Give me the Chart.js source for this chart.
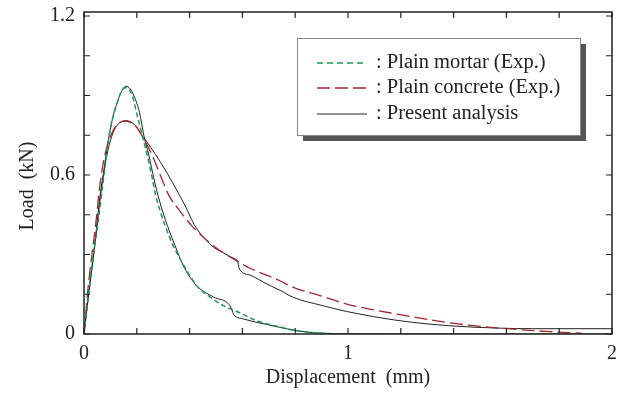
<!DOCTYPE html>
<html>
<head>
<meta charset="utf-8">
<script src="https://cdn.jsdelivr.net/npm/chart.js@4.4.0/dist/chart.umd.min.js"></script>
<style>
html,body{margin:0;padding:0;background:#fff;}
#wrap{width:622px;height:394px;position:relative;}
</style>
</head>
<body>
<div id="wrap"><canvas id="c"></canvas></div>
<script>
// ---- data ----
const mortarX = [0,0.02,0.04,0.053,0.069,0.076,0.095,0.11,0.126,0.14,0.16,0.183,0.202,0.221,0.24,0.259,0.272,0.29,0.307,0.335,0.364,0.395,0.427,0.47,0.528,0.59,0.654,0.742,0.793,0.85,0.9,0.976];
const mortarY = [0,0.17,0.33,0.42,0.547,0.6,0.748,0.82,0.874,0.912,0.93,0.899,0.823,0.748,0.673,0.585,0.52,0.46,0.409,0.34,0.283,0.23,0.182,0.145,0.107,0.08,0.05,0.027,0.014,0.007,0.003,0];

const concreteX = [0,0.015,0.03,0.045,0.057,0.069,0.088,0.114,0.135,0.158,0.196,0.227,0.259,0.29,0.322,0.357,0.408,0.49,0.566,0.629,0.742,0.793,0.894,0.995,1.197,1.386,1.576,1.765,1.885];
const concreteY = [0,0.17,0.3,0.42,0.535,0.623,0.711,0.774,0.798,0.803,0.784,0.736,0.673,0.597,0.522,0.472,0.409,0.333,0.283,0.248,0.201,0.176,0.145,0.113,0.073,0.042,0.022,0.009,0.003];

const anaMortarX = [0,0.02,0.04,0.061,0.076,0.095,0.11,0.126,0.142,0.158,0.175,0.189,0.21,0.227,0.246,0.265,0.284,0.316,0.345,0.376,0.427,0.49,0.553,0.559,0.568,0.6,0.65,0.692,0.742,0.8,0.85,0.9,1.0,1.5,2.0];
const anaMortarY = [0,0.17,0.33,0.522,0.623,0.748,0.82,0.874,0.915,0.935,0.925,0.899,0.837,0.748,0.673,0.585,0.509,0.409,0.333,0.258,0.182,0.14,0.107,0.094,0.072,0.058,0.045,0.036,0.025,0.014,0.007,0.003,0.001,0,0];

const anaConcreteX = [0,0.02,0.04,0.06,0.08,0.1,0.12,0.14,0.16,0.189,0.221,0.253,0.29,0.335,0.383,0.42,0.484,0.53,0.572,0.581,0.589,0.63,0.69,0.742,0.793,0.9,0.995,1.197,1.386,1.576,1.7,2.0];
const anaConcreteY = [0,0.17,0.33,0.5,0.64,0.73,0.78,0.80,0.805,0.792,0.748,0.704,0.648,0.572,0.484,0.409,0.333,0.305,0.283,0.277,0.245,0.222,0.19,0.165,0.138,0.108,0.085,0.05,0.031,0.022,0.02,0.02];

const xTickValues = [0,0.2,0.4,0.6,0.8,1,1.2,1.4,1.6,1.8,2];
const xTickLabels = ['0','','','','','1','','','','','2'];
const yTickValues = [0,0.15,0.3,0.45,0.6,0.75,0.9,1.05,1.2];
const yTickLabels = ['0','','','','0.6','','','','1.2'];

const legendLabels = [': Plain mortar (Exp.)', ': Plain concrete (Exp.)', ': Present analysis'];
const xTitle = 'Displacement  (mm)';
const yTitle = 'Load  (kN)';

// ---- styles ----
const GREEN = '#1f9a55';
const RED = '#a3282e';
const BLACK = '#222';
const FONT = '"Liberation Serif", "Times New Roman", serif';

function pts(xs, ys){ return xs.map((x,i)=>({x:x, y:ys[i]})); }

const frameAndTicks = {
  id:'frameAndTicks',
  afterDraw(chart){
    const {ctx, chartArea:a, scales:{x, y}} = chart;
    ctx.save();
    ctx.strokeStyle = '#222';
    ctx.lineWidth = 1.5;
    ctx.strokeRect(a.left, a.top, a.right-a.left, a.bottom-a.top);
    ctx.lineWidth = 1.2;
    const L = 6;
    ctx.beginPath();
    xTickValues.forEach(v=>{
      const px = x.getPixelForValue(v);
      ctx.moveTo(px, a.bottom); ctx.lineTo(px, a.bottom-L);
      ctx.moveTo(px, a.top); ctx.lineTo(px, a.top+L);
    });
    yTickValues.forEach(v=>{
      const py = y.getPixelForValue(v);
      ctx.moveTo(a.left, py); ctx.lineTo(a.left+L, py);
      ctx.moveTo(a.right, py); ctx.lineTo(a.right-L, py);
    });
    ctx.stroke();

    // axis titles
    ctx.fillStyle = '#222';
    ctx.font = '20px ' + FONT;
    ctx.textAlign = 'center';
    ctx.textBaseline = 'middle';
    ctx.fillText(xTitle, (a.left+a.right)/2, 378);
    ctx.save();
    ctx.translate(28, 186);
    ctx.rotate(-Math.PI/2);
    ctx.fillText(yTitle, 0, 0);
    ctx.restore();

    // legend
    const bx=297, by=38, bw=283, bh=97;
    ctx.fillStyle = '#555';
    ctx.fillRect(bx+6, by+6, bw, bh);
    ctx.fillStyle = '#fff';
    ctx.fillRect(bx, by, bw, bh);
    ctx.strokeStyle = '#888';
    ctx.lineWidth = 1;
    ctx.strokeRect(bx+0.5, by+0.5, bw, bh);
    const rows = [63, 88, 114];
    const styles = [
      {c:GREEN, d:[6,4], w:1.5},
      {c:RED, d:[13,5], w:1.3},
      {c:BLACK, d:[], w:1}
    ];
    ctx.font = '20.5px ' + FONT;
    rows.forEach((ry,i)=>{
      ctx.strokeStyle = styles[i].c;
      ctx.lineWidth = styles[i].w;
      ctx.setLineDash(styles[i].d);
      ctx.beginPath();
      ctx.moveTo(317, ry); ctx.lineTo(367, ry);
      ctx.stroke();
      ctx.setLineDash([]);
      ctx.fillStyle = '#222';
      ctx.textAlign = 'left';
      ctx.fillText(legendLabels[i], 376, ry);
    });
    ctx.restore();
  }
};

new Chart(document.getElementById('c'), {
  type:'line',
  data:{
    datasets:[
      {label:'Plain mortar (Exp.)', data:pts(mortarX, mortarY), borderColor:GREEN, borderWidth:1.5, borderDash:[5,3]},
      {label:'Plain concrete (Exp.)', data:pts(concreteX, concreteY), borderColor:RED, borderWidth:1.3, borderDash:[13,5]},
      {label:'Present analysis', data:pts(anaMortarX, anaMortarY), borderColor:BLACK, borderWidth:1},
      {label:'Present analysis 2', data:pts(anaConcreteX, anaConcreteY), borderColor:BLACK, borderWidth:1}
    ]
  },
  options:{
    responsive:true,
    maintainAspectRatio:false,
    animation:false,
    parsing:false,
    layout:{padding:{top:12, right:10, left:0, bottom:0}},
    elements:{point:{radius:0}, line:{cubicInterpolationMode:'monotone', fill:false}},
    plugins:{legend:{display:false}, tooltip:{enabled:false}},
    scales:{
      x:{
        type:'linear', min:0, max:2,
        afterFit(s){ s.height = 60; s.paddingLeft = 0; s.paddingRight = 0; },
        afterBuildTicks(s){ s.ticks = xTickValues.map(v=>({value:v})); },
        grid:{display:false, drawTicks:false},
        border:{display:false},
        ticks:{
          padding:8, color:'#222', font:{family:FONT, size:20},
          maxRotation:0, autoSkip:false,
          callback:(v)=>{ const i = xTickValues.findIndex(t=>Math.abs(t-v)<1e-6); return i>=0 ? xTickLabels[i] : ''; }
        }
      },
      y:{
        type:'linear', min:0, max:1.215,
        afterFit(s){ s.width = 84; s.paddingTop = 0; s.paddingBottom = 0; },
        afterBuildTicks(s){ s.ticks = yTickValues.map(v=>({value:v})); },
        grid:{display:false, drawTicks:false},
        border:{display:false},
        ticks:{
          padding:9, color:'#222', font:{family:FONT, size:20},
          autoSkip:false,
          callback:(v)=>{ const i = yTickValues.findIndex(t=>Math.abs(t-v)<1e-6); return i>=0 ? yTickLabels[i] : ''; }
        }
      }
    }
  },
  plugins:[frameAndTicks]
});
</script>
</body>
</html>
